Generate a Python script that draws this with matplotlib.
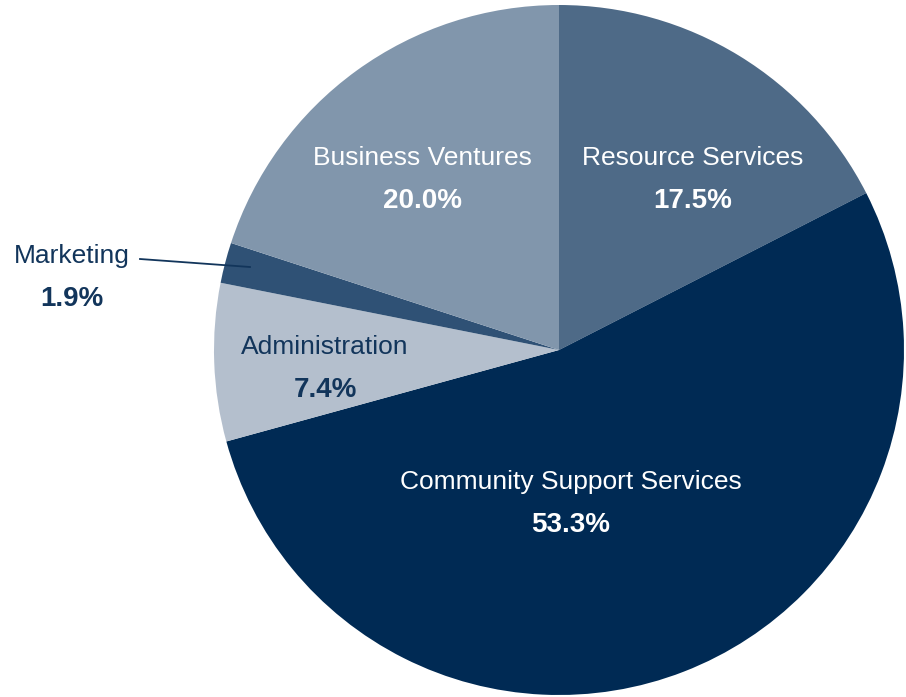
import matplotlib.pyplot as plt
from matplotlib import font_manager

# slices in drawing order, clockwise from 12 o'clock
names = ["Resource Services", "Community Support Services", "Administration",
         "Marketing", "Business Ventures"]
shares = [17.5, 53.3, 7.4, 1.9, 20.0]
colors = ["#4e6a87", "#002a54", "#b4bfcd", "#2f5175", "#8196ac"]

dark = "#12355b"
avail = {f.name for f in font_manager.fontManager.ttflist}
family = [f for f in ["Liberation Sans Narrow", "Liberation Sans"] if f in avail]
plt.rcParams["font.family"] = family

fig = plt.figure(figsize=(9.06, 6.97), dpi=100)
ax = fig.add_axes([0, 0, 1, 1])
cx, cy, r = 559, 697 - 350, 345

ax.pie(shares, colors=colors, startangle=90, counterclock=False,
       center=(cx, cy), radius=r, normalize=True,
       wedgeprops=dict(linewidth=0))
ax.set_xlim(0, 906)
ax.set_ylim(0, 697)
ax.set_aspect("equal")
ax.axis("off")

# label positions (pixels from top-left): name line, pct line
label_pos = {
    "Resource Services": (693, 158, "white"),
    "Community Support Services": (571, 482, "white"),
    "Administration": (325, 347, dark),
    "Marketing": (72, 256, dark),
    "Business Ventures": (422, 158, "white"),
}
for name, share in zip(names, shares):
    x, y, c = label_pos[name]
    ax.text(x, 697 - y, name, ha="center", va="center", fontsize=19, color=c)
    ax.text(x, 697 - y - 43, f"{share:.1f}%", ha="center", va="center",
            fontsize=20, fontweight="bold", color=c)

ax.plot([140, 250], [697 - 259, 697 - 267], color=dark, lw=1.3)

fig.savefig("out.png", dpi=100)
